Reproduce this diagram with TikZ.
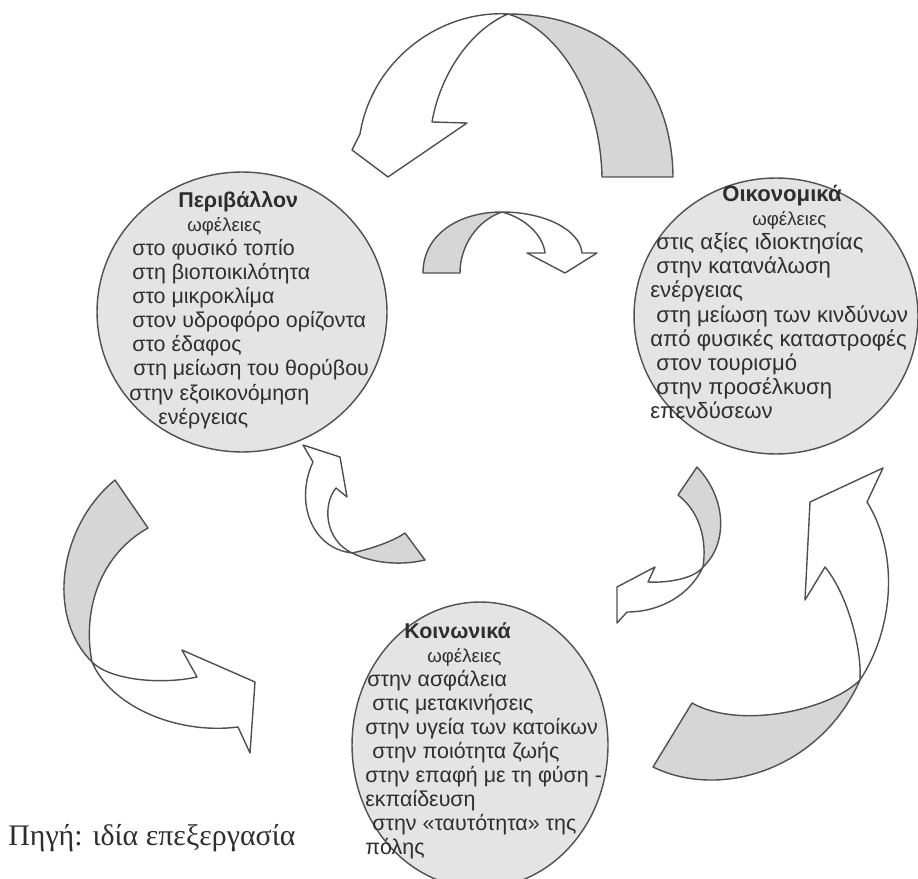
\documentclass[tikz,border=0pt]{standalone}
\usepackage{fontspec}
\setmainfont{Liberation Sans}
\newfontfamily\captionfont{Liberation Serif}
\usetikzlibrary{shapes.geometric}
\definecolor{ringgray}{HTML}{E4E4E4}
\definecolor{backgray}{HTML}{D6D6D6}
\definecolor{linegray}{HTML}{505050}
\definecolor{inkgray}{HTML}{2E2E2E}
\newlength\pxu
\setlength\pxu{0.569pt}
\newcommand\gain{{\fontsize{10.6}{13.7}\selectfont ωφέλειες}}
\tikzset{
  benefit/.style={ellipse, draw=linegray, fill=ringgray, line width=0.8pt, inner sep=0pt},
  benefittext/.style={align=left, anchor=north west, inner sep=0pt, text=inkgray,
    font=\fontsize{12.2}{13.7}\selectfont},
  ribbonback/.style={draw=linegray, fill=backgray, line width=0.8pt, line join=round},
  ribbonfront/.style={draw=linegray, fill=white, line width=0.8pt, line join=round}
}
\begin{document}
\begin{tikzpicture}[x=0.02cm, y=-0.02cm]
\useasboundingbox (0,0) rectangle (918,878);
\node[benefit, minimum width=5.8cm, minimum height=5.6cm] (envcircle) at (242,312) {};
\node[benefit, minimum width=5.68cm, minimum height=5.52cm] (ecocircle) at (776,316) {};
\node[benefit, minimum width=5.12cm, minimum height=5.72cm] (soccircle) at (480,745) {};
\node[benefittext] (envtext) at (129,191) {%
\hspace*{49\pxu}\textbf{Περιβάλλον}\\
\hspace*{58\pxu}\gain\\
\hspace*{3\pxu}στο φυσικό τοπίο\\
\hspace*{3\pxu}στη βιοποικιλότητα\\
\hspace*{3\pxu}στο μικροκλίμα\\
\hspace*{3\pxu}στον υδροφόρο ορίζοντα\\
\hspace*{3\pxu}στο έδαφος\\
\hspace*{4\pxu}στη μείωση του θορύβου\\
στην εξοικονόμηση\\
\hspace*{29\pxu}ενέργειας};
\node[benefittext, font=\fontsize{12.6}{13.7}\selectfont] (ecotext) at (650,185) {%
\hspace*{72\pxu}\textbf{Οικονομικά}\\
\hspace*{102\pxu}\gain\\
\hspace*{6\pxu}στις αξίες ιδιοκτησίας\\
\hspace*{6\pxu}στην κατανάλωση\\
ενέργειας\\
\hspace*{6\pxu}στη μείωση των κινδύνων\\
από φυσικές καταστροφές\\
\hspace*{6\pxu}στον τουρισμό\\
\hspace*{6\pxu}στην προσέλκυση\\
επενδύσεων};
\node[benefittext] (soctext) at (365,622) {%
\hspace*{39\pxu}\textbf{Κοινωνικά}\\
\hspace*{62\pxu}\gain\\
\hspace*{2\pxu}στην ασφάλεια\\
\hspace*{7\pxu}στις μετακινήσεις\\
στην υγεία των κατοίκων\\
\hspace*{7\pxu}στην ποιότητα ζωής\\
στην επαφή με τη φύση -\\
εκπαίδευση\\
\hspace*{7\pxu}στην «ταυτότητα» της\\
πόλης};
\draw[ribbonback] (673,177) .. controls (672,80) and (610,14) .. (508,14)
  .. controls (555,28) and (600,90) .. (602,177) -- cycle;
\draw[ribbonfront] (508,14) .. controls (440,10) and (372,60) .. (360,134) -- (352,150)
  -- (388,177) -- (467,123) -- (432,122) .. controls (440,75) and (470,30) .. (508,14) -- cycle;
\draw[ribbonback] (423,273) .. controls (423,235) and (458,212) .. (502,212)
  .. controls (478,220) and (460,245) .. (460,273) -- cycle;
\draw[ribbonfront] (502,212) .. controls (545,212) and (580,230) .. (582,253) -- (597,253)
  -- (565,273) -- (527,253) -- (545,253) .. controls (543,235) and (525,218) .. (502,212) -- cycle;
\draw[ribbonback] (352,553) .. controls (375,548) and (395,540) .. (405,533) -- (425,560)
  .. controls (400,566) and (372,563) .. (352,553) -- cycle;
\draw[ribbonfront] (352,553) .. controls (310,548) and (295,500) .. (313,462) -- (303,445)
  -- (340,457) -- (347,497) -- (336,488) .. controls (322,505) and (325,540) .. (352,553) -- cycle;
\draw[ribbonback] (697,467) .. controls (728,500) and (727,545) .. (703,567)
  .. controls (707,540) and (700,512) .. (678,495) -- cycle;
\draw[ribbonfront] (703,567) .. controls (690,595) and (660,612) .. (627,612) -- (617,623)
  -- (617,587) -- (655,567) -- (648,582) .. controls (670,583) and (695,578) .. (703,567) -- cycle;
\draw[ribbonback] (115,480) .. controls (60,525) and (45,615) .. (92,662)
  .. controls (82,610) and (100,555) .. (148,528) -- cycle;
\draw[ribbonfront] (92,662) .. controls (110,705) and (175,735) .. (238,727) -- (250,753)
  -- (255,682) -- (182,650) -- (197,677) .. controls (160,685) and (110,680) .. (92,662) -- cycle;
\draw[ribbonback] (653,767) .. controls (720,800) and (820,770) .. (860,680)
  .. controls (830,710) and (740,730) .. (692,703) -- cycle;
\draw[ribbonfront] (860,680) .. controls (893,630) and (900,555) .. (867,502) -- (883,468)
  -- (810,502) -- (805,600) -- (825,567) .. controls (848,595) and (862,650) .. (860,680) -- cycle;
\node[font=\captionfont\fontsize{17}{19}\selectfont, text=inkgray, anchor=west, inner sep=0pt]
  (source) at (8,838) {Πηγή: ιδία επεξεργασία};
\end{tikzpicture}
\end{document}
